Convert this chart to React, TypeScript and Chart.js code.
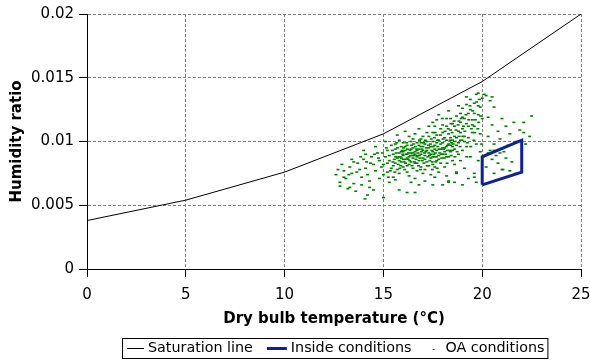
import React, { useEffect, useRef } from 'react';
import { Chart, registerables } from 'chart.js';

Chart.register(...registerables);

// ---------- data ----------
const seriesLabels = ['Saturation line', 'Inside conditions', 'OA conditions'];
const seriesColors = ['#000000', '#0c1f9c', '#008000'];

const satTemp = [0, 5, 10, 15, 20, 25];
const satHumidity = [0.0038, 0.0054, 0.0076, 0.0106, 0.0147, 0.02];

const insideTemp = [20, 20, 22, 22, 20];
const insideHumidity = [0.0066, 0.0088, 0.0101, 0.0076, 0.0066];

// [dry bulb temperature °C, humidity ratio]
const oaConditions: [number, number][] = [
  // left tail
  [12.6, 0.0074], [12.8, 0.0068], [13.0, 0.0077], [13.1, 0.0071], [13.3, 0.008], [13.4, 0.0075], [13.5, 0.0067],
  [13.7, 0.0083], [13.8, 0.0078], [13.9, 0.0072], [14.0, 0.0086], [14.1, 0.0079], [14.2, 0.0074], [14.3, 0.0069],
  [14.4, 0.0088], [14.5, 0.0082], [14.6, 0.0077], [14.7, 0.0091], [14.8, 0.0085], [14.9, 0.008], [13.2, 0.0063],
  [13.6, 0.0061], [14.3, 0.0064], [12.9, 0.0082], [13.4, 0.0086], [14.0, 0.0093], [14.6, 0.0096], [14.8, 0.0071],
  [13.0, 0.0072], [12.7, 0.0078], [14.2, 0.0058], [13.9, 0.0066], [14.5, 0.0062], [13.5, 0.0084], [14.1, 0.009],
  [12.8, 0.0065], [13.3, 0.0064], [14.07, 0.0055], [15.0, 0.0056], [15.8, 0.0062], [16.2, 0.006], [16.6, 0.006],
  // core
  [15.0, 0.0082], [15.1, 0.0088], [15.2, 0.0076], [15.2, 0.0093], [15.3, 0.0085], [15.4, 0.0079], [15.4, 0.0097],
  [15.5, 0.009], [15.5, 0.0072], [15.3, 0.0068], [15.1, 0.01], [15.0, 0.0074],
  [15.6, 0.0083], [15.6, 0.0094], [15.7, 0.0087], [15.7, 0.0078], [15.8, 0.0091], [15.8, 0.0101], [15.9, 0.0084],
  [15.9, 0.0096], [16.0, 0.008], [16.0, 0.0089], [15.6, 0.007], [15.8, 0.0075], [15.7, 0.0105], [15.9, 0.0092],
  [16.0, 0.0099],
  [16.1, 0.0086], [16.1, 0.0093], [16.2, 0.0081], [16.2, 0.0097], [16.3, 0.0088], [16.3, 0.0104], [16.4, 0.0084],
  [16.4, 0.0091], [16.5, 0.0095], [16.5, 0.0079], [16.2, 0.0076], [16.4, 0.01], [16.1, 0.0108], [16.3, 0.0073],
  [16.5, 0.0087], [16.2, 0.009], [16.4, 0.0068],
  [16.6, 0.0083], [16.6, 0.0092], [16.7, 0.0088], [16.7, 0.0099], [16.8, 0.0085], [16.8, 0.0094], [16.9, 0.009],
  [16.9, 0.008], [17.0, 0.0087], [17.0, 0.0096], [16.6, 0.0106], [16.8, 0.011], [16.7, 0.0077], [16.9, 0.0102],
  [17.0, 0.0075], [16.6, 0.0071], [16.8, 0.0066], [16.7, 0.0093],
  [17.1, 0.0089], [17.1, 0.0098], [17.2, 0.0084], [17.2, 0.0093], [17.3, 0.0091], [17.3, 0.0104], [17.4, 0.0087],
  [17.4, 0.0096], [17.5, 0.0082], [17.5, 0.01], [17.1, 0.0078], [17.3, 0.0112], [17.2, 0.0107], [17.4, 0.0074],
  [17.5, 0.0092], [17.1, 0.0069], [17.3, 0.0081], [17.5, 0.0115],
  [17.6, 0.0088], [17.6, 0.0097], [17.7, 0.0093], [17.7, 0.0105], [17.8, 0.0086], [17.8, 0.0101], [17.9, 0.0094],
  [17.9, 0.011], [18.0, 0.009], [18.0, 0.0099], [17.6, 0.008], [17.8, 0.0076], [17.7, 0.0117], [17.9, 0.0083],
  [18.0, 0.0107], [17.6, 0.0072], [17.8, 0.0121], [18.0, 0.0066],
  [18.1, 0.0095], [18.1, 0.0103], [18.2, 0.0088], [18.2, 0.0112], [18.3, 0.0098], [18.3, 0.0106], [18.4, 0.0092],
  [18.4, 0.0118], [18.5, 0.0101], [18.5, 0.0085], [18.1, 0.008], [18.3, 0.0124], [18.2, 0.0073], [18.4, 0.0109],
  [18.5, 0.0096], [18.3, 0.0069],
  [18.6, 0.0104], [18.6, 0.0112], [18.7, 0.0097], [18.7, 0.012], [18.8, 0.0108], [18.8, 0.009], [18.9, 0.0115],
  [18.9, 0.0101], [19.0, 0.0093], [19.0, 0.0126], [18.6, 0.0082], [18.8, 0.0128], [18.7, 0.0076], [18.9, 0.0085],
  [19.0, 0.011], [18.6, 0.0068],
  [19.1, 0.0118], [19.1, 0.0104], [19.2, 0.0129], [19.2, 0.0096], [19.3, 0.0112], [19.3, 0.0122], [19.4, 0.0133],
  [19.4, 0.0088], [19.5, 0.0107], [19.5, 0.0117], [19.1, 0.0079], [19.3, 0.0071], [19.2, 0.0135], [19.4, 0.0125],
  [19.6, 0.013], [19.6, 0.0112], [19.7, 0.0137], [19.7, 0.0098], [19.8, 0.0121], [19.8, 0.0085], [19.9, 0.0127],
  [19.9, 0.0106], [20.0, 0.0134], [19.6, 0.0075], [19.8, 0.0138], [19.9, 0.0092], [19.7, 0.0068], [20.0, 0.0118],
  [17.5, 0.0066], [18.3, 0.0068], [19.0, 0.0066], [18.7, 0.0075], [19.6, 0.0072],
  // extra density in core
  [15.55, 0.0086], [15.65, 0.0091], [15.75, 0.0082], [15.85, 0.0088], [15.95, 0.0093], [16.05, 0.0084],
  [16.15, 0.009], [16.25, 0.0086], [16.35, 0.0093], [16.45, 0.0081], [16.55, 0.0089], [16.65, 0.0086],
  [16.75, 0.0091], [16.85, 0.0087], [16.95, 0.0094], [17.05, 0.0083], [17.15, 0.0092], [17.25, 0.0088],
  [17.35, 0.0085], [17.45, 0.0093], [17.55, 0.009], [17.65, 0.0084], [17.75, 0.0096], [17.85, 0.0091],
  [17.95, 0.0087], [18.05, 0.0094], [18.15, 0.009], [18.25, 0.0097], [18.35, 0.0093], [18.45, 0.0099],
  [15.6, 0.0098], [15.8, 0.0085], [16.0, 0.0092], [16.2, 0.0087], [16.4, 0.0094], [16.6, 0.009], [16.8, 0.0097],
  [17.0, 0.0093], [17.2, 0.01], [17.4, 0.009], [17.6, 0.0094], [17.8, 0.0089], [18.0, 0.0095], [18.2, 0.0101],
  [18.4, 0.0097], [18.6, 0.0094], [18.8, 0.0099], [16.1, 0.0096], [16.3, 0.0082], [16.5, 0.0091], [16.7, 0.0083],
  [16.9, 0.0096], [17.1, 0.0086], [17.3, 0.0095], [17.5, 0.0088], [17.7, 0.0085], [17.9, 0.0098], [18.1, 0.0092],
  [18.3, 0.0088], [18.5, 0.0093], [18.7, 0.0103], [18.9, 0.0107], [19.1, 0.01], [19.3, 0.0103], [19.5, 0.0113],
  [19.0, 0.0119], [18.5, 0.0114], [18.0, 0.0113], [17.5, 0.0107], [17.0, 0.0104], [16.5, 0.0102], [16.0, 0.0086],
  [15.5, 0.0081], [15.3, 0.0089], [15.2, 0.0083], [16.9, 0.0099], [17.7, 0.0099], [18.4, 0.0103], [19.2, 0.0114],
  [19.6, 0.0122], [19.8, 0.0128], [18.9, 0.0122], [18.2, 0.0118], [17.6, 0.0112],
  [15.45, 0.0093], [15.62, 0.0088], [15.72, 0.0095], [15.83, 0.0079], [15.91, 0.0087], [16.02, 0.0095],
  [16.12, 0.0083], [16.18, 0.0099], [16.27, 0.0091], [16.33, 0.0085], [16.42, 0.0097], [16.48, 0.0089],
  [16.57, 0.0084], [16.62, 0.0096], [16.71, 0.0089], [16.78, 0.0081], [16.83, 0.0101], [16.92, 0.0092],
  [16.97, 0.0085], [17.03, 0.0099], [17.08, 0.0091], [17.17, 0.0095], [17.22, 0.0081], [17.28, 0.0097],
  [17.33, 0.0089], [17.42, 0.0102], [17.47, 0.0084], [17.52, 0.0096], [17.58, 0.0103], [17.63, 0.0091],
  [17.68, 0.0088], [17.73, 0.0101], [17.82, 0.0094], [17.88, 0.0105], [17.93, 0.009], [18.02, 0.0102],
  [18.08, 0.0087], [18.12, 0.0108], [18.18, 0.0096], [18.23, 0.0093], [18.28, 0.011], [18.38, 0.0101],
  [18.43, 0.0089], [18.48, 0.0107], [18.53, 0.0098], [18.58, 0.0116], [18.63, 0.01], [18.68, 0.0109],
  [18.73, 0.0092], [18.78, 0.0113], [18.83, 0.0104], [18.88, 0.0096], [18.93, 0.0118], [18.98, 0.0101],
  [19.05, 0.0112], [19.12, 0.0108], [19.18, 0.0121], [19.25, 0.0099], [19.32, 0.0117], [19.38, 0.0128],
  [19.45, 0.011], [19.52, 0.0124], [19.58, 0.0101], [19.65, 0.0117], [19.72, 0.0131], [19.78, 0.011],
  [19.85, 0.0133], [19.92, 0.012], [19.97, 0.0098], [15.35, 0.0077], [15.48, 0.0084], [15.58, 0.0076],
  [15.68, 0.0099], [15.78, 0.0088], [15.88, 0.0081], [15.98, 0.009], [16.08, 0.0078], [16.22, 0.0094],
  [16.38, 0.0089], [16.52, 0.0098], [16.68, 0.0094], [16.82, 0.0089], [16.88, 0.0078], [17.12, 0.0101],
  [17.38, 0.0098], [17.48, 0.0078], [17.62, 0.0107], [17.72, 0.0079], [17.98, 0.0118], [18.22, 0.0083],
  [18.42, 0.0114], [18.62, 0.0088], [18.82, 0.0116], [19.02, 0.0104], [19.22, 0.0088], [19.42, 0.0096],
  [19.62, 0.0107], [19.82, 0.0115], [14.95, 0.0091], [14.75, 0.0087], [15.15, 0.0095], [15.25, 0.0072],
  [14.55, 0.009], [14.35, 0.0083], [14.15, 0.0084], [13.85, 0.0088], [13.65, 0.0076], [13.25, 0.0074],
  // right side
  [20.2, 0.0136], [20.4, 0.0132], [20.6, 0.0127], [20.3, 0.0119], [20.5, 0.0113], [20.8, 0.0108], [21.0, 0.0118],
  [21.2, 0.0112], [21.4, 0.0106], [21.6, 0.0115], [21.9, 0.0109], [22.1, 0.0107], [22.1, 0.0115], [22.5, 0.012],
  [22.4, 0.0104], [20.3, 0.0104], [20.6, 0.0098], [20.9, 0.0102], [21.3, 0.0097], [21.7, 0.01], [20.4, 0.0093],
  [20.7, 0.0089], [21.1, 0.0092], [20.5, 0.0086], [20.8, 0.0083], [21.2, 0.0087], [21.5, 0.0084], [20.2, 0.008],
  [21.0, 0.0078], [20.6, 0.0075], [21.05, 0.0078], [21.4, 0.0077], [21.7, 0.0075], [20.3, 0.0091], [20.6, 0.0093],
  [20.9, 0.0091], [22.2, 0.0098], [20.1, 0.0137], [20.5, 0.0135],
];

const xTicks = [0, 5, 10, 15, 20, 25];
const yTicks = [0, 0.005, 0.01, 0.015, 0.02];
const yTickLabels = ['0', '0.005', '0.01', '0.015', '0.02'];
const xTitle = 'Dry bulb temperature (°C)';
const yTitle = 'Humidity ratio';

const FONT = '"DejaVu Sans", Verdana, sans-serif';

const boxLegend = {
  id: 'boxLegend',
  afterDraw(chart: any) {
    const ctx = chart.ctx as CanvasRenderingContext2D;
    const datasets = chart.data.datasets;
    ctx.save();
    ctx.font = `14.3px ${FONT}`;
    ctx.textBaseline = 'middle';
    ctx.textAlign = 'left';
    const symW = [17, 20, 16];
    const symGap = 4;
    const itemGap = 14;
    const widths = datasets.map((d: any, i: number) => symW[i] + symGap + ctx.measureText(d.label).width);
    const total = widths.reduce((a: number, b: number) => a + b, 0) + itemGap * (datasets.length - 1);
    const cx = 335.5;
    const cy = 348.5;
    let x = Math.round(cx - total / 2);
    const startX = x;
    datasets.forEach((d: any, i: number) => {
      if (i < 2) {
        ctx.strokeStyle = d.borderColor;
        ctx.lineWidth = d.borderWidth;
        const yy = Math.round(cy) - (d.borderWidth % 2 ? 0.5 : 0);
        ctx.beginPath();
        ctx.moveTo(x, yy);
        ctx.lineTo(x + symW[i], yy);
        ctx.stroke();
      } else {
        ctx.fillStyle = d.borderColor;
        ctx.fillRect(x + symW[i] / 2 - 1, Math.round(cy), 2, 1);
      }
      ctx.fillStyle = '#000';
      ctx.fillText(d.label, x + symW[i] + symGap, cy);
      x += widths[i] + itemGap;
    });
    const endX = x - itemGap;
    ctx.strokeStyle = '#000';
    ctx.lineWidth = 1;
    ctx.strokeRect(startX - 5 + 0.5, 338.5, endX - startX + 8, 20);
    ctx.restore();
  },
};

export default function App() {
  const ref = useRef<HTMLCanvasElement>(null);
  useEffect(() => {
    if (!ref.current) return;
    const gridCommon = {
      color: '#808080',
      lineWidth: 1,
      drawTicks: true,
      tickLength: 8,
      tickColor: '#000000',
      tickBorderDash: [],
      tickWidth: 1,
    };
    const chart = new Chart(ref.current, {
      type: 'scatter',
      data: {
        datasets: [
          {
            label: seriesLabels[0],
            data: satTemp.map((t, i) => ({ x: t, y: satHumidity[i] })),
            showLine: true,
            borderColor: seriesColors[0],
            backgroundColor: seriesColors[0],
            borderWidth: 1,
            pointRadius: 0,
            tension: 0,
          },
          {
            label: seriesLabels[1],
            data: insideTemp.map((t, i) => ({ x: t, y: insideHumidity[i] })),
            showLine: true,
            borderColor: seriesColors[1],
            backgroundColor: seriesColors[1],
            borderWidth: 3,
            pointRadius: 0,
            tension: 0,
          },
          {
            label: seriesLabels[2],
            data: oaConditions.map(([t, h]) => ({ x: t, y: h })),
            showLine: false,
            borderColor: seriesColors[2],
            backgroundColor: seriesColors[2],
            pointStyle: 'line',
            pointRadius: 1.5,
            borderWidth: 1.6,
          },
        ],
      },
      options: {
        responsive: false,
        animation: false,
        devicePixelRatio: 1,
        layout: { padding: { left: 0, right: 9, top: 14, bottom: 30 } },
        plugins: {
          legend: { display: false },
          tooltip: { enabled: false },
        },
        scales: {
          x: {
            type: 'linear',
            min: xTicks[0],
            max: xTicks[xTicks.length - 1],
            afterBuildTicks: (s: any) => {
              s.ticks = xTicks.map((v) => ({ value: v }));
            },
            afterFit: (s: any) => {
              s.height = 61;
              s.paddingRight = 0;
              s.paddingLeft = 0;
            },
            ticks: {
              color: '#000',
              font: { family: FONT, size: 15 },
              padding: 9,
              maxRotation: 0,
              callback: (v: any) => String(v),
            },
            grid: { ...gridCommon },
            border: { display: true, color: '#000', width: 1, dash: [3, 2] },
            title: {
              display: true,
              text: xTitle,
              color: '#000',
              font: { family: FONT, size: 15, weight: 'bold' },
              padding: { top: 0, bottom: 1.5 },
            },
          },
          y: {
            type: 'linear',
            min: yTicks[0],
            max: yTicks[yTicks.length - 1],
            afterBuildTicks: (s: any) => {
              s.ticks = yTicks.map((v) => ({ value: v }));
            },
            afterFit: (s: any) => {
              s.width = 87;
            },
            ticks: {
              color: '#000',
              font: { family: FONT, size: 15 },
              padding: 5,
              callback: (_v: any, i: number) => yTickLabels[i],
            },
            grid: { ...gridCommon },
            border: { display: true, color: '#000', width: 1, dash: [3, 2] },
            title: {
              display: true,
              text: yTitle,
              color: '#000',
              font: { family: FONT, size: 15, weight: 'bold' },
              padding: { top: 8, bottom: 0 },
            },
          },
        },
      },
      plugins: [boxLegend],
    } as any);
    return () => chart.destroy();
  }, []);
  return (
    <div style={{ position: 'absolute', left: 0, top: 0, width: 590, height: 360, background: '#fff' }}>
      <canvas ref={ref} width={590} height={360} />
    </div>
  );
}
